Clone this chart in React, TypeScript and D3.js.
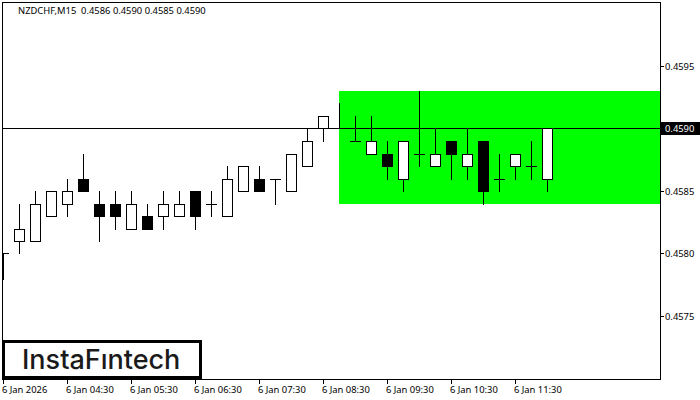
import React from "react";
import * as d3 from "d3";

const opens = [0.458005,0.4581,0.4581,0.4583,0.4584,0.4586,0.4584,0.4584,0.4582,0.4583,0.4583,0.4583,0.4585,0.4584,0.4583,0.4585,0.4586,0.4586,0.4585,0.4587,0.4590,0.4590,0.4589,0.4588,0.4588,0.4586,0.4588,0.4587,0.4589,0.4587,0.4589,0.4586,0.4587,0.4587,0.4586];
const highs = [0.458005,0.4584,0.4585,0.4585,0.4586,0.4588,0.4585,0.4585,0.4585,0.4584,0.4585,0.4585,0.4585,0.4585,0.4587,0.4587,0.4587,0.4586,0.4588,0.4590,0.4591,0.4592,0.4591,0.4591,0.4589,0.4589,0.4593,0.4590,0.4589,0.4590,0.4589,0.4588,0.4588,0.4589,0.4590];
const lows = [0.4578,0.458005,0.4581,0.4583,0.4583,0.4585,0.4581,0.4582,0.4582,0.4582,0.4582,0.4583,0.4582,0.4583,0.4583,0.4585,0.4585,0.4584,0.4585,0.4587,0.4589,0.4590,0.4589,0.4588,0.4586,0.4585,0.4587,0.4587,0.4586,0.4586,0.4584,0.4585,0.4586,0.4586,0.4585];
const closes = [0.458005,0.4582,0.4584,0.4585,0.4585,0.4585,0.4583,0.4583,0.4584,0.4582,0.4584,0.4584,0.4583,0.4584,0.4586,0.4587,0.4585,0.4586,0.4588,0.4589,0.4591,0.4590,0.4589,0.4589,0.4587,0.4589,0.4588,0.4588,0.4588,0.4588,0.4585,0.4586,0.4588,0.4587,0.4590];

const priceTicks = [0.4595, 0.4585, 0.458005, 0.4575];
const priceTickLabels = ["0.4595", "0.4585", "0.4580", "0.4575"];
const lastPrice = 0.4590;
const zoneTop = 0.4593;
const zoneBottom = 0.4584;
const zoneStartIndex = 21;
const timeTickIndexes = [0, 4, 8, 12, 16, 20, 24, 28, 32];
const timeLabels = ["6 Jan 2026","6 Jan 04:30","6 Jan 05:30","6 Jan 06:30","6 Jan 07:30","6 Jan 08:30","6 Jan 09:30","6 Jan 10:30","6 Jan 11:30"];
const header = "NZDCHF,M15  0.4586 0.4590 0.4585 0.4590";
const logo = "InstaFıntech";

const FONT = "'Noto Sans', sans-serif";
const FS = 9.4;

export default function App() {
  const x = d3.scaleLinear().domain([0, 34]).range([3, 547]);
  const yRaw = d3.scaleLinear().domain([0.4590, 0.4580]).range([128.49, 253.59]);
  const y = (v: number) => Math.round(yRaw(v)) + 0.5;
  const cx = (i: number) => Math.round(x(i)) + 0.5;
  return (
    <svg width={700} height={400} style={{ position: "absolute", left: 0, top: 0, background: "#fff" }}>
      <rect x={cx(zoneStartIndex) - 0.5} y={y(zoneTop) - 0.5} width={660 - cx(zoneStartIndex) + 0.5} height={y(zoneBottom) - y(zoneTop)} fill="#00ff00" />
      <g shapeRendering="crispEdges">
        <line x1={2} x2={2} y1={2} y2={379} stroke="#000" />
        <line x1={2} x2={660} y1={2.5} y2={2.5} stroke="#000" />
        <line x1={660.5} x2={660.5} y1={2} y2={380} stroke="#000" />
        <line x1={2} x2={660} y1={379.5} y2={379.5} stroke="#000" />
        <line x1={2} x2={660} y1={y(lastPrice)} y2={y(lastPrice)} stroke="#000" />
        {opens.map((o, i) => {
          const c = closes[i];
          const top = y(Math.max(o, c));
          const bot = y(Math.min(o, c));
          const xc = cx(i);
          return (
            <g key={i}>
              <line x1={xc} x2={xc} y1={y(highs[i]) - 0.5} y2={y(lows[i]) + 0.5} stroke="#000" />
              {o === c ? (
                <line x1={Math.max(xc - 5.5, 3)} x2={xc + 5.5} y1={top} y2={top} stroke="#000" />
              ) : (
                <rect x={xc - 5} y={top} width={10} height={bot - top} fill={c > o ? "#fff" : "#000"} stroke="#000" />
              )}
            </g>
          );
        })}
        {timeTickIndexes.map((i) => (
          <line key={i} x1={cx(i)} x2={cx(i)} y1={380} y2={384} stroke="#000" />
        ))}
        {priceTicks.map((p) => (
          <line key={p} x1={661} x2={664} y1={y(p)} y2={y(p)} stroke="#000" />
        ))}
        <rect x={661} y={y(lastPrice) - 6.5} width={39} height={13} fill="#000" />
        <rect x={3.5} y={341.5} width={197} height={36} fill="#fff" stroke="#000" strokeWidth={3} />
      </g>
      {priceTicks.map((p, k) => (
        <text key={p} x={665} y={y(p) + 3.5} fontFamily={FONT} fontSize={FS} fill="#000">{priceTickLabels[k]}</text>
      ))}
      <text x={665} y={y(lastPrice) + 3.5} fontFamily={FONT} fontSize={FS} fill="#fff">{lastPrice.toFixed(4)}</text>
      {timeTickIndexes.map((i, k) => (
        <text key={i} x={cx(i) - 1.5} y={393} fontFamily={FONT} fontSize={FS} fill="#000">{timeLabels[k]}</text>
      ))}
      <text x={18} y={14} fontFamily={FONT} fontSize={FS} fill="#000" xmlSpace="preserve">{header}</text>
      <text x={22} y={369} fontFamily="Inter, sans-serif" fontWeight={500} fontSize={27} fill="#1a1a1a">{logo}</text>
    </svg>
  );
}
